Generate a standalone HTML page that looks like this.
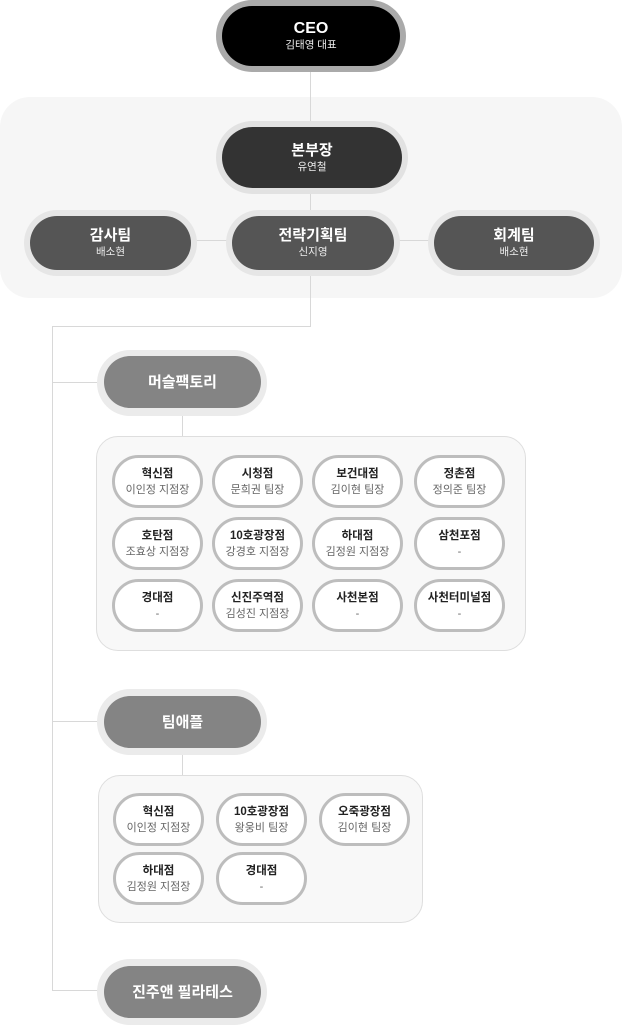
<!DOCTYPE html>
<html><head><meta charset="utf-8"><style>
*{margin:0;padding:0;box-sizing:border-box}
body{width:622px;height:1025px;position:relative;background:#fff;font-family:"Liberation Sans","Noto Sans CJK KR",sans-serif;overflow:hidden}
.a{position:absolute}
.ln{position:absolute;background:#d8d8d8}
.halo{position:absolute;border-radius:40px}
.n{position:absolute;border-radius:32px;color:#fff;display:flex;flex-direction:column;align-items:center;justify-content:center;text-align:center}
.n b{font-size:15px;font-weight:bold;line-height:19px}
.n span{font-size:10.5px;line-height:15px;color:#eee}
.panel{position:absolute;background:#f8f8f8;border:1px solid #dedede;border-radius:22px}
.p{position:absolute;width:91px;height:53px;border:3px solid #bdbdbd;border-radius:27px;background:#fff;display:flex;flex-direction:column;align-items:center;justify-content:center;text-align:center}
.p b{font-size:11.5px;font-weight:bold;color:#222;line-height:16px}
.p span{font-size:11px;color:#666;line-height:16px}
</style></head><body>
<div class="a" style="left:0;top:97px;width:622px;height:201px;background:#f6f6f6;border-radius:30px"></div>
<!-- lines -->
<div class="ln" style="left:310px;top:60px;width:1px;height:267px"></div>
<div class="ln" style="left:52px;top:326px;width:259px;height:1px"></div>
<div class="ln" style="left:52px;top:326px;width:1px;height:665px"></div>
<div class="ln" style="left:52px;top:382px;width:50px;height:1px"></div>
<div class="ln" style="left:52px;top:721px;width:50px;height:1px"></div>
<div class="ln" style="left:52px;top:990px;width:50px;height:1px"></div>
<div class="ln" style="left:182px;top:400px;width:1px;height:36px"></div>
<div class="ln" style="left:182px;top:740px;width:1px;height:35px"></div>
<div class="ln" style="left:190px;top:240px;width:240px;height:1px"></div>

<!-- CEO -->
<div class="halo" style="left:216px;top:0;width:190px;height:72px;background:#aaa;border-radius:36px"></div>
<div class="n" style="left:222px;top:6px;width:178px;height:60px;background:#000;border-radius:30px"><b style="font-size:16px">CEO</b><span>김태영 대표</span></div>
<!-- 본부장 -->
<div class="halo" style="left:216px;top:121px;width:192px;height:73px;background:#e2e2e2;border-radius:37px"></div>
<div class="n" style="left:222px;top:127px;width:180px;height:61px;background:#333;border-radius:31px"><b>본부장</b><span>유연철</span></div>
<!-- row -->
<div class="halo" style="left:24px;top:210px;width:173px;height:66px;background:#e6e6e6;border-radius:33px"></div>
<div class="n" style="left:30px;top:216px;width:161px;height:54px;background:#555;border-radius:27px"><b>감사팀</b><span>배소현</span></div>
<div class="halo" style="left:226px;top:210px;width:174px;height:66px;background:#e6e6e6;border-radius:33px"></div>
<div class="n" style="left:232px;top:216px;width:162px;height:54px;background:#555;border-radius:27px"><b>전략기획팀</b><span>신지영</span></div>
<div class="halo" style="left:428px;top:210px;width:172px;height:66px;background:#e6e6e6;border-radius:33px"></div>
<div class="n" style="left:434px;top:216px;width:160px;height:54px;background:#555;border-radius:27px"><b>회계팀</b><span>배소현</span></div>

<!-- 머슬팩토리 -->
<div class="halo" style="left:97px;top:350px;width:170px;height:66px;background:#ebebeb;border-radius:33px"></div>
<div class="n" style="left:104px;top:356px;width:157px;height:52px;background:#848484;border-radius:26px"><b>머슬팩토리</b></div>
<div class="panel" style="left:96px;top:436px;width:430px;height:215px"></div>
<div class="p" style="left:112px;top:455px"><b>혁신점</b><span>이인정 지점장</span></div>
<div class="p" style="left:212px;top:455px"><b>시청점</b><span>문희권 팀장</span></div>
<div class="p" style="left:312px;top:455px"><b>보건대점</b><span>김이현 팀장</span></div>
<div class="p" style="left:414px;top:455px"><b>정촌점</b><span>정의준 팀장</span></div>
<div class="p" style="left:112px;top:517px"><b>호탄점</b><span>조효상 지점장</span></div>
<div class="p" style="left:212px;top:517px"><b>10호광장점</b><span>강경호 지점장</span></div>
<div class="p" style="left:312px;top:517px"><b>하대점</b><span>김정원 지점장</span></div>
<div class="p" style="left:414px;top:517px"><b>삼천포점</b><span>-</span></div>
<div class="p" style="left:112px;top:579px"><b>경대점</b><span>-</span></div>
<div class="p" style="left:212px;top:579px"><b>신진주역점</b><span>김성진 지점장</span></div>
<div class="p" style="left:312px;top:579px"><b>사천본점</b><span>-</span></div>
<div class="p" style="left:414px;top:579px"><b>사천터미널점</b><span>-</span></div>

<!-- 팀애플 -->
<div class="halo" style="left:97px;top:689px;width:170px;height:66px;background:#ebebeb;border-radius:33px"></div>
<div class="n" style="left:104px;top:696px;width:157px;height:52px;background:#848484;border-radius:26px"><b>팀애플</b></div>
<div class="panel" style="left:98px;top:775px;width:325px;height:148px"></div>
<div class="p" style="left:113px;top:793px"><b>혁신점</b><span>이인정 지점장</span></div>
<div class="p" style="left:216px;top:793px"><b>10호광장점</b><span>왕웅비 팀장</span></div>
<div class="p" style="left:319px;top:793px"><b>오죽광장점</b><span>김이현 팀장</span></div>
<div class="p" style="left:113px;top:852px"><b>하대점</b><span>김정원 지점장</span></div>
<div class="p" style="left:216px;top:852px"><b>경대점</b><span>-</span></div>

<!-- 진주앤 -->
<div class="halo" style="left:97px;top:959px;width:170px;height:66px;background:#ebebeb;border-radius:33px"></div>
<div class="n" style="left:104px;top:966px;width:157px;height:52px;background:#848484;border-radius:26px"><b>진주앤 필라테스</b></div>
</body></html>
